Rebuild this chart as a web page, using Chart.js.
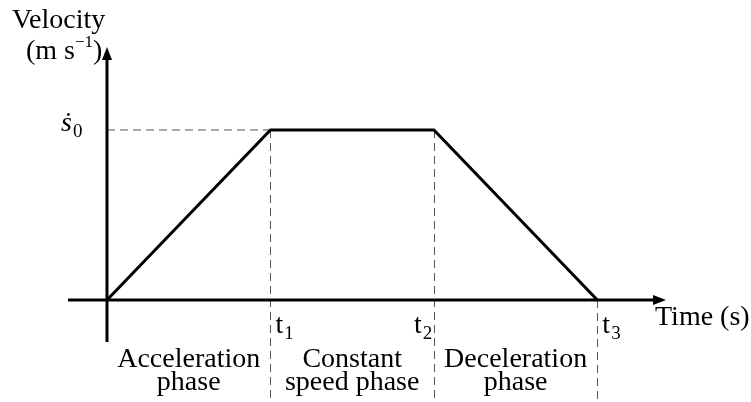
<!DOCTYPE html>
<html>
<head>
<meta charset="utf-8">
<script src="https://cdn.jsdelivr.net/npm/chart.js@4"></script>
<style>
  html, body { margin: 0; padding: 0; background: #fff; }
  #wrap { width: 751px; height: 402px; }
</style>
</head>
<body>
<div id="wrap"><canvas id="profile" width="751" height="402"></canvas></div>
<script>
// trapezoidal velocity profile: accelerate, cruise, decelerate
const times = [0, 1, 2, 3];
const velocity = [0, 1, 1, 0];
const timeTicks = [['t', '1'], ['t', '2'], ['t', '3']];
const levelTick = ['\u1E61', '0'];
const phaseLabels = [
  ['Acceleration', 'phase'],
  ['Constant', 'speed phase'],
  ['Deceleration', 'phase']
];
const yTitle = ['Velocity', '(m s', '\u22121', ')'];
const xTitle = 'Time (s)';

const FONT = '"Liberation Serif", "DejaVu Serif", serif';
const INK = '#000';

function arrowHead(ctx, x, y, dir) {
  // dir: 'up' or 'right'
  ctx.beginPath();
  if (dir === 'up') {
    ctx.moveTo(x, y);
    ctx.lineTo(x - 5, y + 13);
    ctx.lineTo(x + 5, y + 13);
  } else {
    ctx.moveTo(x, y);
    ctx.lineTo(x - 13, y - 5);
    ctx.lineTo(x - 13, y + 5);
  }
  ctx.closePath();
  ctx.fill();
}

function subText(ctx, main, sub, x, y, italic) {
  ctx.textAlign = 'left';
  ctx.textBaseline = 'alphabetic';
  ctx.font = (italic ? 'italic ' : '') + '28px ' + FONT;
  ctx.fillText(main, x, y);
  const w = ctx.measureText(main).width;
  ctx.font = '19px ' + FONT;
  ctx.fillText(sub, x + w + 1, y + 6);
}

const diagram = {
  id: 'diagram',
  beforeDatasetsDraw(chart) {
    const { ctx, chartArea, scales } = chart;
    const xs = scales.x, ys = scales.y;
    const x0 = xs.getPixelForValue(0);
    const y0 = ys.getPixelForValue(0);
    const yTop = ys.getPixelForValue(velocity[1]);

    ctx.save();
    // dashed guides
    ctx.strokeStyle = '#555';
    ctx.lineWidth = 1;
    ctx.setLineDash([8, 5]);
    ctx.beginPath();
    ctx.moveTo(x0, yTop);
    ctx.lineTo(xs.getPixelForValue(times[1]), yTop);
    for (let i = 1; i < times.length; i++) {
      const px = Math.round(xs.getPixelForValue(times[i])) + 0.5;
      ctx.moveTo(px, ys.getPixelForValue(velocity[i]));
      ctx.lineTo(px, chartArea.bottom);
    }
    ctx.stroke();
    ctx.setLineDash([]);

    // axes
    ctx.strokeStyle = '#000';
    ctx.fillStyle = '#000';
    ctx.lineWidth = 3;
    ctx.beginPath();
    ctx.moveTo(x0 - 39, y0);
    ctx.lineTo(chartArea.right - 8, y0);
    ctx.moveTo(x0, y0 + 42);
    ctx.lineTo(x0, chartArea.top + 8);
    ctx.stroke();
    arrowHead(ctx, x0, chartArea.top, 'up');
    arrowHead(ctx, chartArea.right, y0, 'right');
    ctx.restore();
  },
  afterDraw(chart) {
    const { ctx, chartArea, scales } = chart;
    const xs = scales.x, ys = scales.y;
    const x0 = xs.getPixelForValue(0);
    const y0 = ys.getPixelForValue(0);
    ctx.save();
    ctx.fillStyle = INK;

    // y title with superscript
    ctx.font = '28px ' + FONT;
    ctx.textAlign = 'left';
    ctx.textBaseline = 'alphabetic';
    ctx.fillText(yTitle[0], x0 - 95, 28);
    let tx = x0 - 81;
    ctx.fillText(yTitle[1], tx, 59);
    tx += ctx.measureText(yTitle[1]).width;
    ctx.font = '17px ' + FONT;
    ctx.fillText(yTitle[2], tx, 47);
    tx += ctx.measureText(yTitle[2]).width;
    ctx.font = '28px ' + FONT;
    ctx.fillText(yTitle[3], tx, 59);

    // level tick
    subText(ctx, levelTick[0], levelTick[1], x0 - 46, ys.getPixelForValue(velocity[1]) + 1, true);

    // time ticks
    timeTicks.forEach((t, i) => {
      const px = xs.getPixelForValue(times[i + 1]);
      const offs = i === 1 ? -20 : 5;
      subText(ctx, t[0], t[1], px + offs, y0 + 33, false);
    });

    // x title
    ctx.font = '28px ' + FONT;
    ctx.textAlign = 'left';
    ctx.fillText(xTitle, chartArea.right - 11, y0 + 25);

    // phase names centred between time marks
    ctx.textAlign = 'center';
    phaseLabels.forEach((lines, i) => {
      const cx = (xs.getPixelForValue(times[i]) + xs.getPixelForValue(times[i + 1])) / 2;
      ctx.fillText(lines[0], cx, y0 + 67);
      ctx.fillText(lines[1], cx, y0 + 90);
    });
    ctx.restore();
  }
};

new Chart(document.getElementById('profile'), {
  type: 'line',
  data: {
    datasets: [{
      data: times.map((t, i) => ({ x: t, y: velocity[i] })),
      borderColor: '#000',
      borderWidth: 3,
      borderJoinStyle: 'miter',
      pointRadius: 0,
      tension: 0,
      fill: false,
      clip: false
    }]
  },
  options: {
    responsive: false,
    animation: false,
    layout: { padding: { left: 107, right: 85, top: 47, bottom: 2 } },
    plugins: { legend: { display: false }, tooltip: { enabled: false } },
    scales: {
      x: { type: 'linear', min: 0, max: 3.42, display: false },
      y: { type: 'linear', min: -0.588, max: 1.488, display: false }
    }
  },
  plugins: [diagram]
});
</script>
</body>
</html>
